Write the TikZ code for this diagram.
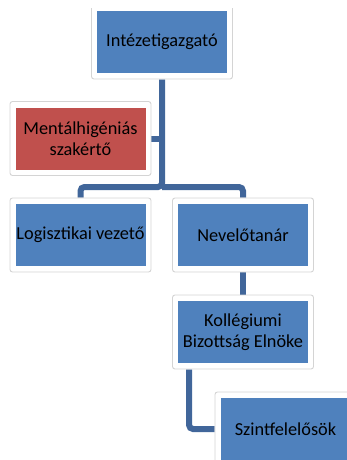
\documentclass[tikz,border=0pt]{standalone}
\usepackage{fontspec}
\setmainfont{Carlito}
\usetikzlibrary{backgrounds}
\definecolor{boxblue}{HTML}{4F81BD}
\definecolor{boxred}{HTML}{C0504D}
\definecolor{connblue}{HTML}{41669A}
\definecolor{framegray}{HTML}{D4D4D4}
\begin{document}
\begin{tikzpicture}[x=1pt,y=-1pt,
  frame/.style={draw=framegray, fill=white, line width=0.9pt, rounded corners=2.5pt,
    minimum width=141pt, minimum height=74pt, inner sep=0pt},
  inbox/.style={fill=boxblue, minimum width=130pt, minimum height=62pt, inner sep=0pt,
    align=center, font=\fontsize{18.3}{21}\selectfont, text=black},
  redbox/.style={inbox, fill=boxred},
  conn/.style={draw=connblue, line width=6pt, rounded corners=4pt}]
\useasboundingbox (0,0) rectangle (347,460);
\clip (0,0) rectangle (347,460);
% frames
\begin{scope}
\clip (0,9) rectangle (347,120);
\node[frame] (dirF) at (162,42) {};
\end{scope}
\node[frame] (mentF) at (80.5,138.5) {};
\node[frame] (logF) at (80.5,235) {};
\node[frame] (nevF) at (243,235) {};
\node[frame] (kolF) at (243,332) {};
\node[frame] (szF) at (285.5,429) {};
% inner boxes
\node[inbox] (dir) at (dirF.center) {Intézetigazgató};
\node[redbox] (ment) at (mentF.center) {Mentálhigéniás\\szakértő};
\node[inbox] (log) at (logF.center) {Logisztikai vezető};
\node[inbox] (nev) at (nevF.center) {Nevelőtanár};
\node[inbox] (kol) at (kolF.center) {Kollégiumi\\Bizottság Elnöke};
\node[inbox] (sz) at (szF.center) {Szintfelelősök};
\coordinate (bar) at (0,187);
\coordinate (kolOut) at ([xshift=17pt]kolF.south west);
\begin{scope}[on background layer]
\draw[conn] (dirF.south) -- (dirF.south |- bar) -| (logF.north);
\draw[conn] (dirF.south |- bar) -| (nevF.north);
\draw[conn] (mentF.east) -- (mentF.east -| dirF.south);
\draw[conn] (nevF.south) -- (kolF.north);
\draw[conn] (kolOut) |- (szF.west);
\end{scope}
\end{tikzpicture}
\end{document}
